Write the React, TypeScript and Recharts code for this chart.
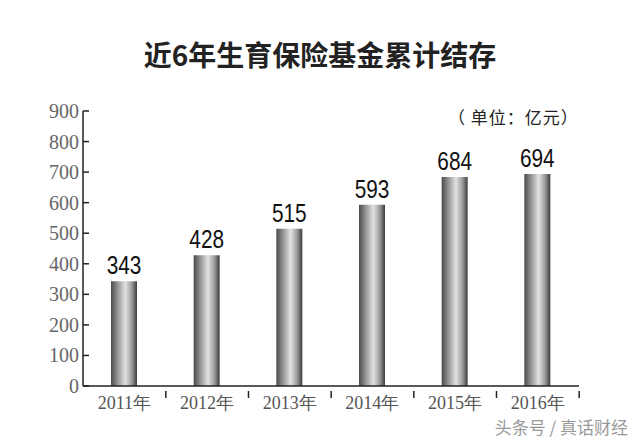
import { BarChart, Bar, XAxis, YAxis, LabelList } from "recharts";

const YEARS = ["2011年", "2012年", "2013年", "2014年", "2015年", "2016年"];
const FUND = [343, 428, 515, 593, 684, 694];
const Y_TICKS = [0, 100, 200, 300, 400, 500, 600, 700, 800, 900];

const data = YEARS.map((year, i) => ({ year, value: FUND[i] }));

const SERIF = "'Liberation Serif', 'DejaVu Serif', serif";
const CJK = "'Noto Sans CJK SC', 'Noto Sans', sans-serif";
const BAND = 83;

const YTick = ({ x, y, payload }: any) => (
  <g>
    <text x={x} y={y} dy={7} textAnchor="end" fontFamily={SERIF} fontSize={20} fill="#666">
      {payload.value}
    </text>
    <line x1={x + 4} x2={x + 10} y1={y} y2={y} stroke="#222" strokeWidth={1.5} />
  </g>
);

const XTick = ({ x, y, payload }: any) => (
  <g>
    <text x={x} y={y} dy={15} textAnchor="middle" fontFamily={SERIF} fontSize={18} fill="#555">
      {payload.value}
    </text>
    <line x1={x + BAND / 2} x2={x + BAND / 2} y1={y - 3} y2={y + 4} stroke="#222" strokeWidth={1.5} />
  </g>
);

// narrow digits above each bar
const ValueLabel = ({ x, y, width, value }: any) => {
  const cx = x + width / 2;
  return (
    <text
      transform={`translate(${cx},${y - 7}) scale(0.8,1)`}
      textAnchor="middle"
      fontFamily="'Liberation Sans', sans-serif"
      fontSize={26}
      fill="#111"
    >
      {value}
    </text>
  );
};

const App = () => {
  return (
    <div style={{ position: "absolute", left: 0, top: 0, width: 640, height: 443, background: "#fff" }}>
      <div
        style={{
          position: "absolute",
          top: 34,
          width: 640,
          textAlign: "center",
          fontFamily: CJK,
          fontWeight: 600,
          fontSize: 28,
          color: "#222",
        }}
      >
        近6年生育保险基金累计结存
      </div>
      <div
        style={{
          position: "absolute",
          left: 448,
          top: 104,
          fontFamily: CJK,
          fontSize: 17,
          letterSpacing: 1,
          color: "#222",
          whiteSpace: "pre",
        }}
      >
        （ 单位：亿元）
      </div>
      <BarChart width={640} height={443} data={data} margin={{ top: 111, right: 61, bottom: 27, left: 43 }}>
        <defs>
          <linearGradient id="cyl" x1="0" y1="0" x2="1" y2="0">
            <stop offset="0%" stopColor="#4a4a4a" />
            <stop offset="22%" stopColor="#8a8a8a" />
            <stop offset="55%" stopColor="#e2e2e2" />
            <stop offset="80%" stopColor="#9a9a9a" />
            <stop offset="100%" stopColor="#3c3c3c" />
          </linearGradient>
        </defs>
        <XAxis
          dataKey="year"
          tickLine={false}
          axisLine={{ stroke: "#222", strokeWidth: 1.5 }}
          tick={<XTick />}
          interval={0}
        />
        <YAxis
          width={40}
          domain={[0, 900]}
          ticks={Y_TICKS}
          tickLine={false}
          tickSize={0}
          tickMargin={4}
          axisLine={{ stroke: "#222", strokeWidth: 1.5 }}
          tick={<YTick />}
          interval={0}
        />
        <Bar dataKey="value" fill="url(#cyl)" barSize={26} isAnimationActive={false}>
          <LabelList dataKey="value" content={<ValueLabel />} />
        </Bar>
      </BarChart>
      <div
        style={{
          position: "absolute",
          right: 12,
          top: 414,
          fontFamily: CJK,
          fontSize: 17,
          color: "#999",
          whiteSpace: "pre",
        }}
      >
        头条号 / 真话财经
      </div>
    </div>
  );
};

export default App;
